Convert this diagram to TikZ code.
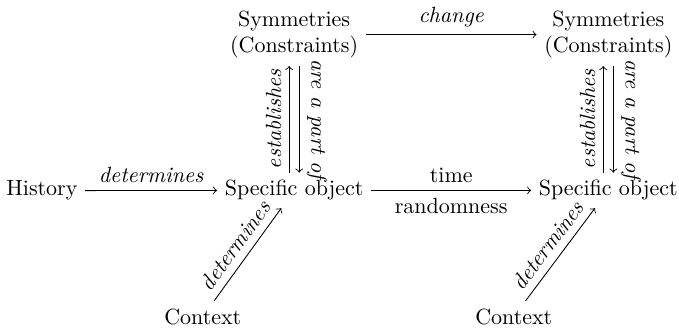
\documentclass[tikz,border=0pt]{standalone}
\begin{document}
\begin{tikzpicture}[>=to, lab/.style={font=\itshape}, sym/.style={anchor=north, align=center}]
    \useasboundingbox (0,0) rectangle (10.85,5.29);
    \node[anchor=base] (hist) at (0.67,2.16) {History};
    \node[anchor=base] (obj1) at (4.70,2.16) {Specific object};
    \node[anchor=base] (obj2) at (9.72,2.16) {Specific object};
    \node[sym] (sym1) at (4.70,5.24) {Symmetries\\(Constraints)};
    \node[sym] (sym2) at (9.72,5.24) {Symmetries\\(Constraints)};
    \node[anchor=base] (ctx1) at (3.24,0.11) {Context};
    \node[anchor=base] (ctx2) at (8.21,0.11) {Context};
    \draw[->] (hist) -- (obj1) node[midway, above, lab] {determines};
    \draw[->] (obj1) -- (obj2) node[midway, above] {time} node[midway, below] {randomness};
    \draw[->] (sym1) -- (sym2) node[midway, above, lab] {change};
    \draw[->] (ctx1) -- (obj1) node[midway, above, sloped, lab] {determines};
    \draw[->] (ctx2) -- (obj2) node[midway, above, sloped, lab] {determines};
    % up and down between object and its symmetries
    \draw[->] ([xshift=-2.3pt]obj1.north) -- ([xshift=-2.3pt]sym1.south) node[midway, above, sloped, lab] {establishes};
    \draw[->] ([xshift=2.3pt]sym1.south) -- ([xshift=2.3pt]obj1.north) node[midway, above, sloped, allow upside down, lab] {are a part of};
    \draw[->] ([xshift=-2.3pt]obj2.north) -- ([xshift=-2.3pt]sym2.south) node[midway, above, sloped, lab] {establishes};
    \draw[->] ([xshift=2.3pt]sym2.south) -- ([xshift=2.3pt]obj2.north) node[midway, above, sloped, allow upside down, lab] {are a part of};
\end{tikzpicture}
\end{document}
